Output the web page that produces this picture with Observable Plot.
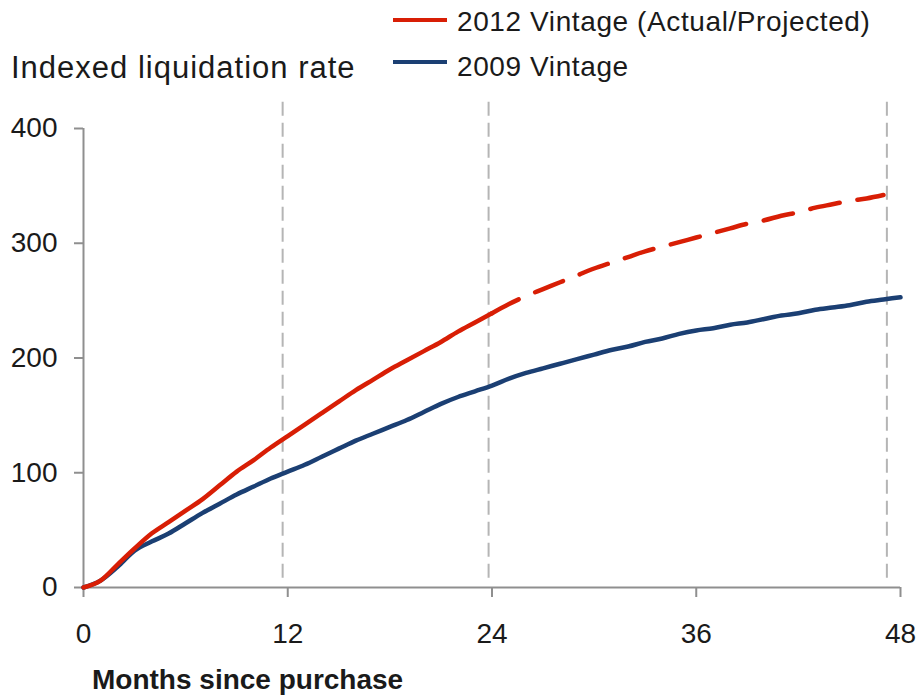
<!DOCTYPE html>
<html>
<head>
<meta charset="utf-8">
<script src="https://cdn.jsdelivr.net/npm/d3@7"></script>
<script src="https://cdn.jsdelivr.net/npm/@observablehq/plot@0.6"></script>
<style>
  html, body { margin: 0; padding: 0; background: #fff; }
  #wrap { width: 919px; height: 696px; font-family: "Liberation Sans", Arial, Helvetica, sans-serif; color: #1a1a1a; }
  #head { position: relative; height: 96px; }
  #foot { position: relative; height: 40px; }
  .txt { position: absolute; line-height: 1; white-space: nowrap; }
  .sw { position: absolute; height: 4px; width: 54px; }
  #chart svg { display: block; }
</style>
</head>
<body>
<div id="wrap">
  <div id="head">
    <div class="txt" id="ylab" style="left:11px; top:51.8px; font-size:31px; letter-spacing:1px;"></div>
    <div class="sw" id="sw0" style="left:393px; top:18px;"></div>
    <div class="txt" id="lg0" style="left:457px; top:8px; font-size:28px; letter-spacing:0.6px;"></div>
    <div class="sw" id="sw1" style="left:393px; top:60px;"></div>
    <div class="txt" id="lg1" style="left:457px; top:52.5px; font-size:28px; letter-spacing:0.6px;"></div>
  </div>
  <div id="chart"></div>
  <div id="foot">
    <div class="txt" id="xlab" style="left:92px; top:10.3px; font-size:28px; font-weight:bold;"></div>
  </div>
</div>
<script>
// ---- Data ----
const yAxisLabel = "Indexed liquidation rate";
const xAxisLabel = "Months since purchase";
const seriesNames = ["2012 Vintage (Actual/Projected)", "2009 Vintage"];
const seriesColors = ["#d81e05", "#1b3f73"];

const xTicks = [0, 12, 24, 36, 48];
const yTicks = [0, 100, 200, 300, 400];

// vertical dashed reference lines (months)
const refMonths = [11.7, 23.8, 47.2];

// 2009 vintage, months 0..48
const months2009 = d3.range(0, 49);
const values2009 = [0, 6, 18, 32, 40, 47, 56, 65, 73, 81, 88, 95, 101, 107, 114, 121, 128, 134, 140, 146,
  153, 160, 166, 171, 176, 182, 187, 191, 195, 199, 203, 207, 210, 214, 217, 221, 224, 226, 229, 231,
  234, 237, 239, 242, 244, 246, 249, 251, 253];

// 2012 vintage actual, months 0..24
const monthsActual2012 = d3.range(0, 25);
const valuesActual2012 = [0, 6, 20, 34, 47, 57, 67, 77, 89, 101, 111, 122, 132, 142, 152, 162, 172, 181,
  190, 198, 206, 214, 223, 231, 239];

// 2012 vintage projected, months 24..47
const monthsProj2012 = d3.range(24, 48);
const valuesProj2012 = [239, 247, 254, 260, 266, 272, 278, 283, 288, 293, 297, 301, 305, 309, 313, 317,
  320, 324, 327, 331, 334, 337, 339, 342];

// ---- Build tables ----
const d2009 = months2009.map((m, i) => ({month: m, value: values2009[i]}));
const dActual = monthsActual2012.map((m, i) => ({month: m, value: valuesActual2012[i]}));
const dProj = monthsProj2012.map((m, i) => ({month: m, value: valuesProj2012[i]}));

const axisGray = "#8f8f8f";
const refTop = 425, refBottom = 8;

const chart = Plot.plot({
  width: 919,
  height: 560,
  marginTop: 32,
  marginBottom: 69,
  marginLeft: 83,
  marginRight: 19,
  x: {domain: [0, 48]},
  y: {domain: [0, 400]},
  style: {fontFamily: '"Liberation Sans", Arial, Helvetica, sans-serif', fontSize: "28px", color: "#1a1a1a", background: "white", overflow: "visible"},
  marks: [
    Plot.ruleX(refMonths, {y1: refBottom, y2: refTop, stroke: "#b5b5b5", strokeWidth: 2, strokeDasharray: "14,7"}),
    Plot.axisY({ticks: yTicks, tickSize: 9, tickPadding: 17, stroke: axisGray, strokeWidth: 2, fill: "#1a1a1a", fontSize: 28, label: null}),
    Plot.axisX({ticks: xTicks, tickSize: 10, tickPadding: 26, stroke: axisGray, strokeWidth: 2, fill: "#1a1a1a", fontSize: 28, label: null}),
    Plot.ruleX([0], {y1: 0, y2: 400, stroke: axisGray, strokeWidth: 2}),
    Plot.ruleY([0], {x1: 0, x2: 48, stroke: axisGray, strokeWidth: 2}),
    Plot.line(d2009, {x: "month", y: "value", stroke: seriesColors[1], strokeWidth: 4.5, curve: "monotone-x"}),
    Plot.line(dActual, {x: "month", y: "value", stroke: seriesColors[0], strokeWidth: 4.5, curve: "monotone-x"}),
    Plot.line(dProj, {x: "month", y: "value", stroke: seriesColors[0], strokeWidth: 4.5, strokeDasharray: "30,18", curve: "monotone-x"})
  ]
});
document.getElementById("chart").appendChild(chart);

document.getElementById("ylab").textContent = yAxisLabel;
document.getElementById("xlab").textContent = xAxisLabel;
document.getElementById("lg0").textContent = seriesNames[0];
document.getElementById("lg1").textContent = seriesNames[1];
document.getElementById("sw0").style.background = seriesColors[0];
document.getElementById("sw1").style.background = seriesColors[1];
</script>
</body>
</html>
